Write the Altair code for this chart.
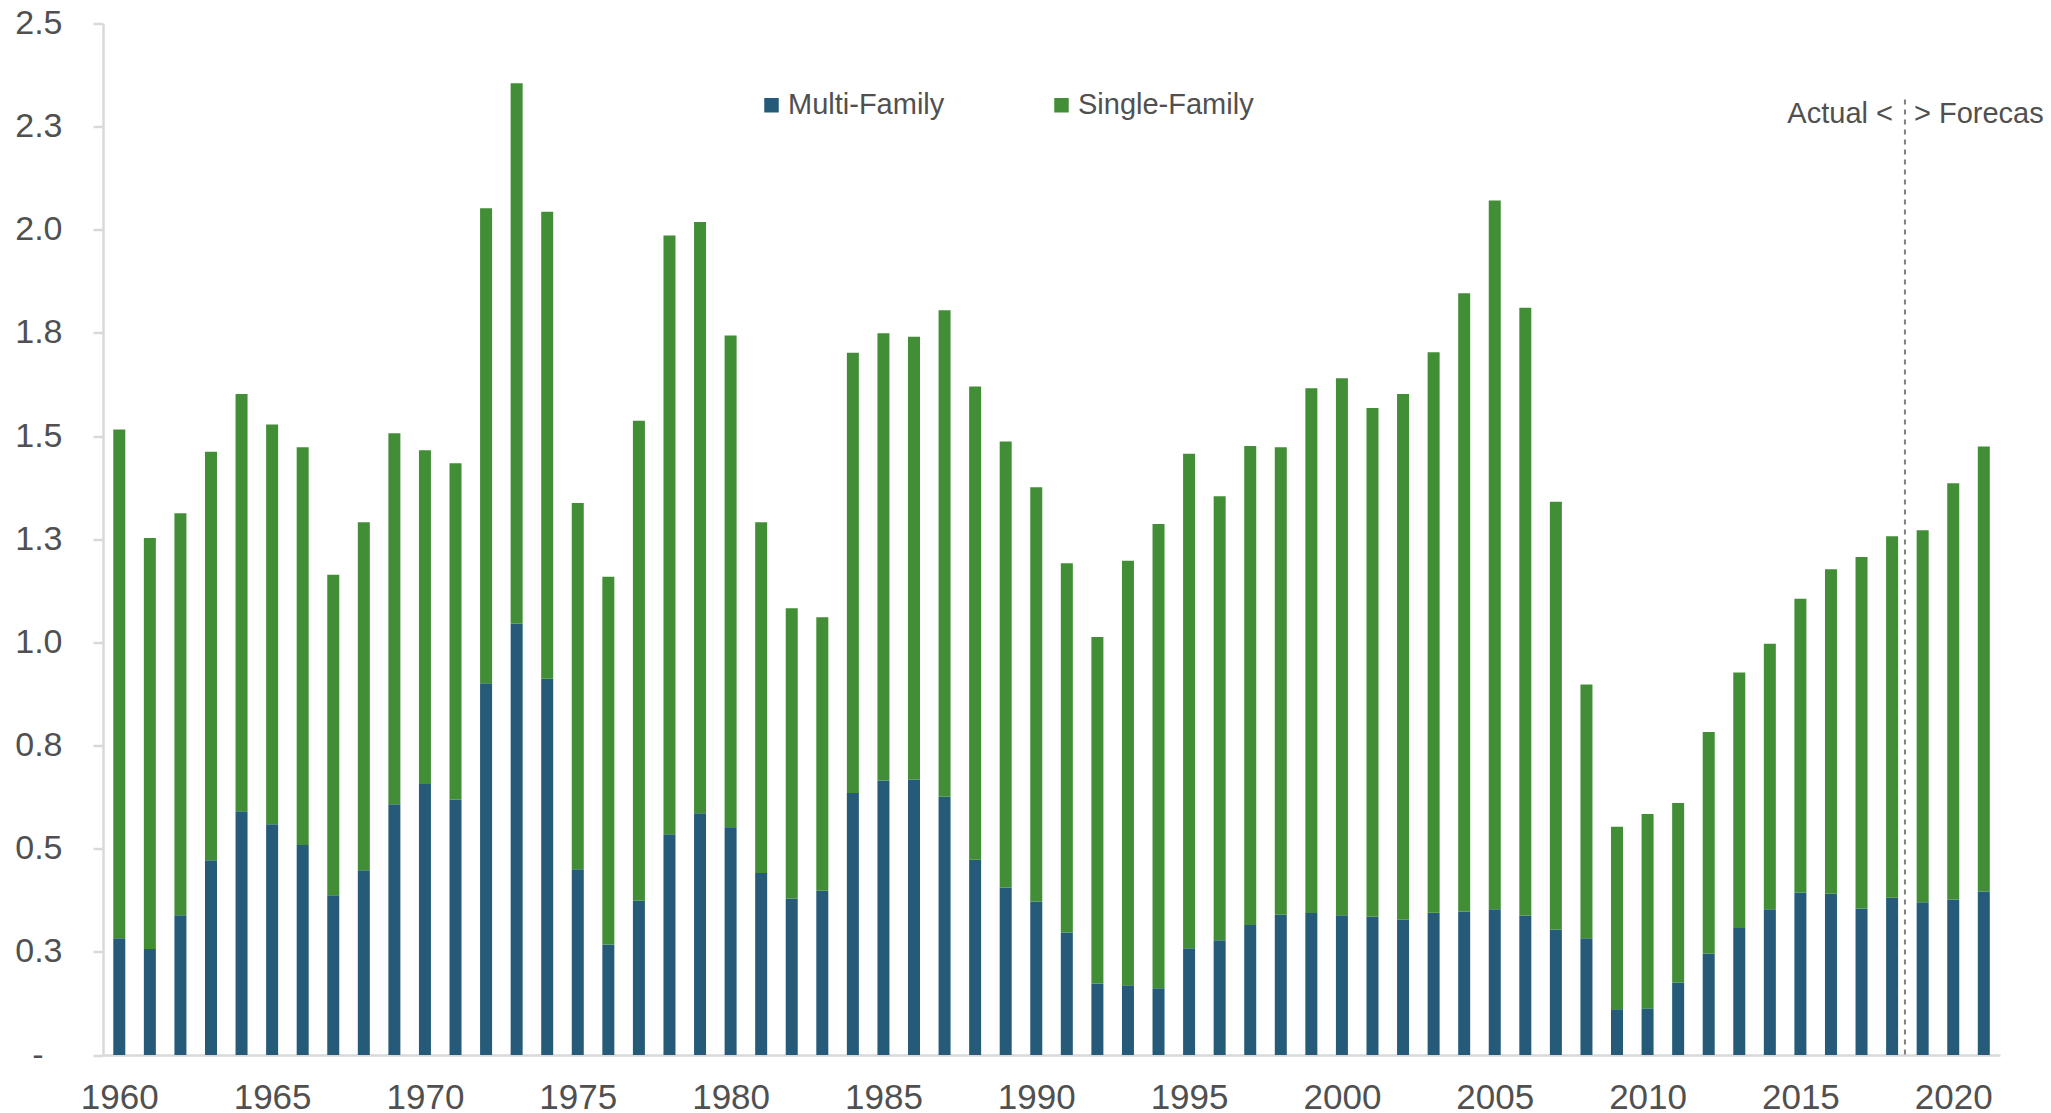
import altair as alt
import pandas as pd

years = list(range(1960, 2022))

multi_family = [
    0.283, 0.257, 0.339, 0.472, 0.591, 0.559, 0.509, 0.387, 0.448, 0.608,
    0.657, 0.619, 0.901, 1.045, 0.912, 0.450, 0.268, 0.374, 0.535, 0.586,
    0.550, 0.441, 0.379, 0.398, 0.635, 0.665, 0.668, 0.626, 0.473, 0.406,
    0.372, 0.297, 0.173, 0.169, 0.162, 0.259, 0.278, 0.315, 0.340, 0.344,
    0.339, 0.335, 0.328, 0.345, 0.348, 0.353, 0.338, 0.304, 0.283, 0.111,
    0.113, 0.176, 0.246, 0.308, 0.353, 0.394, 0.391, 0.355, 0.381, 0.370,
    0.377, 0.396,
]

single_family = [
    1.233, 0.996, 0.974, 0.990, 1.011, 0.969, 0.964, 0.777, 0.843, 0.899,
    0.809, 0.815, 1.151, 1.310, 1.132, 0.888, 0.891, 1.163, 1.451, 1.433,
    1.194, 0.850, 0.704, 0.663, 1.067, 1.084, 1.073, 1.179, 1.147, 1.081,
    1.004, 0.895, 0.840, 1.029, 1.125, 1.198, 1.076, 1.161, 1.133, 1.272,
    1.301, 1.233, 1.274, 1.358, 1.498, 1.718, 1.473, 1.037, 0.615, 0.442,
    0.471, 0.435, 0.537, 0.619, 0.644, 0.712, 0.786, 0.852, 0.876, 0.902,
    1.009, 1.079,
]

series_names = ["Multi-Family", "Single-Family"]
series_colors = ["#255b78", "#428e37"]

x_tick_years = [1960, 1965, 1970, 1975, 1980, 1985, 1990, 1995, 2000, 2005, 2010, 2015, 2020]
y_ticks = [0, 0.25, 0.5, 0.75, 1.0, 1.25, 1.5, 1.75, 2.0, 2.25, 2.5]

divider_year = 2018.42
annot_y = 2.281
divider_top = 2.316

rows = []
for i, y in enumerate(years):
    rows.append({"year": y, "series": series_names[0], "value": multi_family[i], "ord": 0})
    rows.append({"year": y, "series": series_names[1], "value": single_family[i], "ord": 1})
df = pd.DataFrame(rows)

FONT = "Liberation Sans"
TXT = "#505050"
AX = "#d9d9d9"

xscale = alt.Scale(domain=[1959.467, 2021.53], nice=False, zero=False, padding=0)
yscale = alt.Scale(domain=[0, 2.5], nice=False, padding=0)

bars = alt.Chart(df).mark_bar(size=12).encode(
    x=alt.X("year:Q", scale=xscale,
            axis=alt.Axis(values=x_tick_years, format="d", title=None, grid=False,
                          ticks=False, labelFontSize=35, labelFont=FONT, labelColor=TXT,
                          labelPadding=25, domainColor=AX, domainWidth=2.5,
                          labelFlush=False, labelAngle=0)),
    y=alt.Y("value:Q", stack="zero", scale=yscale,
            axis=alt.Axis(values=y_ticks, title=None, grid=False,
                          labelExpr="datum.value == 0 ? '-' : format(datum.value, '.1f')",
                          labelFontSize=34, labelFont=FONT, labelColor=TXT,
                          labelPadding={"condition": {"test": "datum.value == 0", "value": 50}, "value": 31},
                          tickSize=10, tickColor=AX, tickWidth=2.5,
                          domainColor=AX, domainWidth=2.5)),
    color=alt.Color("series:N",
                    scale=alt.Scale(domain=series_names, range=series_colors),
                    legend=alt.Legend(orient="none", legendX=654, legendY=67,
                                      direction="horizontal", title=None,
                                      symbolType="square", symbolSize=210,
                                      symbolStrokeWidth=0,
                                      labelFontSize=29, labelFont=FONT, labelColor=TXT,
                                      labelLimit=0,
                                      labelOffset=2, columnPadding=102, padding=0)),
    order=alt.Order("ord:Q", sort="ascending"),
)

div_df = pd.DataFrame({"x": [divider_year], "y": [divider_top], "y0": [0.0], "ya": [annot_y]})

rule = alt.Chart(div_df).mark_rule(color="#7f7f7f", strokeWidth=2, strokeDash=[5, 5]).encode(
    x=alt.X("x:Q", scale=xscale),
    y=alt.Y("y:Q", scale=yscale),
    y2="y0:Q",
)

txt_left = alt.Chart(div_df).mark_text(
    text="Actual <", align="right", baseline="middle", dx=-12,
    font=FONT, fontSize=29, color=TXT,
).encode(x=alt.X("x:Q", scale=xscale), y=alt.Y("ya:Q", scale=yscale))

txt_right = alt.Chart(div_df).mark_text(
    text="> Forecast", align="left", baseline="middle", dx=9,
    font=FONT, fontSize=29, color=TXT,
).encode(x=alt.X("x:Q", scale=xscale), y=alt.Y("ya:Q", scale=yscale))

chart = alt.layer(bars, rule, txt_left, txt_right).properties(
    width=1897,
    height=1031.5,
    autosize=alt.AutoSizeParams(type="none"),
    padding={"left": 95, "top": 15.5, "right": 43, "bottom": 58},
).configure_view(strokeWidth=0)

chart.save("out.html", embed_options={"renderer": "svg", "actions": False})
